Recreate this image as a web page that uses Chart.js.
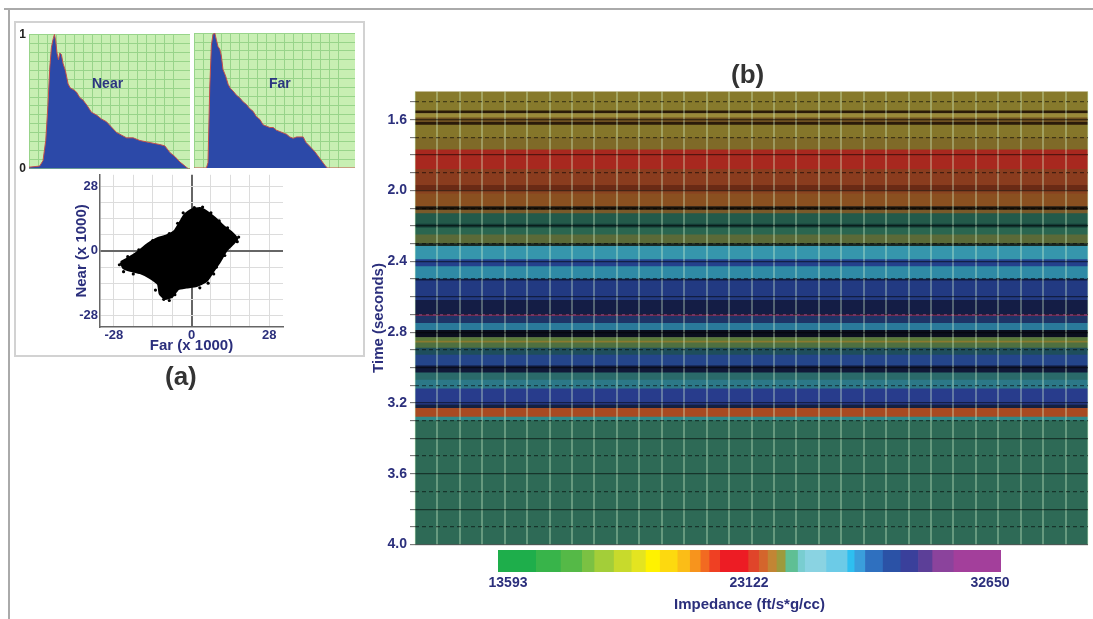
<!DOCTYPE html>
<html>
<head>
<meta charset="utf-8">
<script src="https://cdn.jsdelivr.net/npm/chart.js@4.4.1/dist/chart.umd.min.js"></script>
<style>
    body { margin: 0; background: #fff; width: 1093px; height: 619px; position: relative; overflow: hidden;
        font-family: "Liberation Sans", Arial, sans-serif; }
    .abs { position: absolute; }
    canvas { display: block; }
    .lbl { position: absolute; font-weight: bold; color: #2b3580; font-size: 14px; white-space: nowrap; }
    .cap { position: absolute; font-weight: bold; color: #333; font-size: 26px; }
</style>
</head>
<body>
<div class="abs" style="left:4px;top:8px;width:1089px;border-top:2px solid #aaa"></div>
<div class="abs" style="left:8px;top:8px;height:611px;border-left:2px solid #aaa"></div>
<div class="abs" style="left:14px;top:21px;width:347px;height:332px;border:2px solid #d2d2d2"></div>

<canvas id="near" class="abs" style="left:14px;top:24px" width="176" height="155"></canvas>
<canvas id="far" class="abs" style="left:194px;top:33px" width="161" height="135"></canvas>
<canvas id="scatter" class="abs" style="left:70px;top:165px" width="218" height="190"></canvas>
<canvas id="section" class="abs" style="left:360px;top:80px" width="730" height="476"></canvas>
<canvas id="colorbar" class="abs" style="left:450px;top:547px" width="600" height="67"></canvas>

<div class="lbl" style="left:92px;top:75px">Near</div>
<div class="lbl" style="left:269px;top:75px">Far</div>
<div class="cap" style="left:165px;top:361px">(a)</div>
<div class="cap" style="left:731px;top:59px">(b)</div>

<script>
// histograms (bin position 0-100, normalised count)
const nearBins = [0, 6.6, 8.7, 10.4, 11.8, 12.9, 13.9, 14.9, 15.8, 16.6, 17.4, 18.3, 19.1, 20.1, 21.2, 22.6,
    24.3, 25.7, 27.4, 29.5, 31.5, 33.6, 36.1, 38.8, 41.9, 45.0, 48.1, 51.2, 54.4, 57.5, 60.6, 64.7, 68.9,
    73.0, 77.2, 81.3, 84.4, 87.6, 90.7, 93.8, 96.9, 99, 100];
const nearCounts = [0.012, 0.02, 0.06, 0.21, 0.48, 0.75, 0.90, 0.96, 1.0, 0.95, 0.86, 0.81, 0.86, 0.85, 0.78, 0.73,
    0.63, 0.60, 0.59, 0.57, 0.53, 0.51, 0.47, 0.42, 0.40, 0.37, 0.35, 0.31, 0.27, 0.25, 0.23, 0.23, 0.21,
    0.20, 0.19, 0.18, 0.17, 0.12, 0.09, 0.05, 0.02, 0, 0];
const farBins = [0, 7.7, 8.7, 9.8, 10.8, 11.8, 12.9, 13.9, 14.9, 16.0, 17.0, 18.0, 19.7, 21.2, 22.6, 24.3, 26.3,
    28.4, 30.5, 32.6, 34.6, 36.7, 38.8, 40.9, 42.9, 45.0, 47.1, 49.2, 51.2, 53.3, 55.4, 57.5, 59.5, 61.6,
    63.7, 65.8, 67.8, 69.5, 72.0, 75.1, 78.2, 81.3, 82.8, 100];
const farCounts = [0, 0, 0.04, 0.6, 0.91, 0.99, 1.0, 0.95, 0.90, 0.88, 0.83, 0.73, 0.68, 0.62, 0.59, 0.57, 0.54,
    0.52, 0.49, 0.47, 0.44, 0.42, 0.38, 0.36, 0.32, 0.31, 0.30, 0.30, 0.28, 0.27, 0.26, 0.25, 0.23, 0.22,
    0.23, 0.23, 0.23, 0.19, 0.16, 0.12, 0.07, 0.02, 0, 0];

// crossplot (x 1000): outline of the dense cloud plus loose points round it
const crossTicks = [-28, 0, 28];
const blobFar = [-25.5, -23.3, -20.9, -18.5, -15.6, -12.6, -9.0, -6.0, -4.2, -2.4, 0, 3.0, 5.4, 8.4, 11.4, 14.4,
    16.4, 15.0, 12.6, 10.2, 7.8, 5.4, 1.8, -1.8, -4.8, -7.2, -9.6, -11.4, -12.0, -15.0, -18.5, -22.1, -24.5, -25.5];
const blobNear = [-4.9, -3.5, -1.8, 0.3, 3.1, 5.2, 6.6, 8.7, 12.2, 15.7, 17.8, 18.5, 17.1, 14.3, 10.8, 8.0,
    5.2, 3.1, 0.3, -4.6, -8.8, -13.0, -15.1, -15.8, -16.5, -20.0, -20.7, -18.6, -14.4, -11.6, -9.5, -8.5, -7.4, -4.9];
const strayFar = [-26, -24.5, -21, -13, -8, -10, -6, 3, 9, 12, 16.5, 17, 13, 10, 7, 4, 1, -3, -5, -8, -14, -19, -23, 8, 6];
const strayNear = [-6, -9, -10, -17, -21.5, -21, -19, -16, -7, -2, 4, 6, 10, 13, 16.5, 19, 18.8, 16.5, 12, 7.5, 4.5, 0.5, -2.5, -10, -14];

// impedance section: layers (seconds) and colours
const timeLabels = [1.6, 2.0, 2.4, 2.8, 3.2, 3.6, 4.0];
const layerTop = [1.44, 1.55, 1.565, 1.59, 1.615, 1.63, 1.70, 1.77, 1.88, 1.97, 2.0, 2.02, 2.09, 2.11, 2.13,
    2.19, 2.21, 2.25, 2.30, 2.315, 2.39, 2.43, 2.50, 2.51, 2.62, 2.70, 2.71, 2.75, 2.79, 2.83, 2.85, 2.86,
    2.89, 2.93, 2.99, 3.03, 3.07, 3.12, 3.21, 3.23, 3.28, 3.30];
const layerBase = [1.55, 1.565, 1.59, 1.615, 1.63, 1.70, 1.77, 1.88, 1.97, 2.0, 2.02, 2.09, 2.11, 2.13, 2.19,
    2.21, 2.25, 2.30, 2.315, 2.39, 2.43, 2.50, 2.51, 2.62, 2.70, 2.71, 2.75, 2.79, 2.83, 2.85, 2.86, 2.89,
    2.93, 2.99, 3.03, 3.07, 3.12, 3.21, 3.23, 3.28, 3.30, 4.0];
const layerColor = ["#877a2c", "#2a1a08", "#9a8a38", "#6e5020", "#2a1a0a", "#85762a", "#7f6a28", "#a8281f",
    "#8a3c1e", "#6a2a15", "#8a4420", "#8a5020", "#1a1208", "#7a5a2a", "#235a4a", "#133a35", "#2a6650",
    "#5a6a38", "#1a2a25", "#3696ac", "#24408c", "#2f8aa6", "#101a40", "#223a82", "#141d45", "#7a3060",
    "#1e3466", "#2a7a9a", "#0a0e1e", "#5a7a3a", "#8a7a30", "#4f7040", "#1e4e5c", "#24458a", "#101838",
    "#2a6a6a", "#2c7888", "#283c8c", "#142040", "#a84a22", "#2f8a8a", "#2e6a56"];

// colour scale (bar runs a little past the labelled end values)
const impTicks = [13593, 23122, 32650];
const impStops = [13198, 14712, 15692, 16531, 17021, 17791, 18490, 19050, 19610, 20309, 20799, 21219, 21568,
    21988, 23108, 23527, 23877, 24227, 24577, 25066, 25346, 26186, 27025, 27305, 27725, 28425, 29124,
    29824, 30383, 31223, 33085];
const impColors = ["#1eae4b", "#38b44a", "#55b947", "#7bc143", "#a3ce39", "#c8da2c", "#e4e420", "#fff200",
    "#fdd90f", "#fbbd17", "#f7941d", "#f26a21", "#ef4023", "#ed1c24", "#e0452a", "#d4652c", "#c28534",
    "#9c9a3c", "#5fbf94", "#79cdd0", "#8ad3e2", "#6ccbe7", "#2ebff0", "#3a9edb", "#2f70bf", "#2b52a6",
    "#3a409b", "#5c3f98", "#8b439c", "#a33f9b"];

const NAVY = "#2b2f7c";
const FONT = "'Liberation Sans', Arial, sans-serif";

const areaBg = {
    id: "areaBg",
    beforeDraw(chart, args, opts) {
        if (!opts.color) return;
        const { ctx, chartArea: a } = chart;
        ctx.save();
        ctx.fillStyle = opts.color;
        ctx.fillRect(a.left, a.top, a.width, a.height);
        ctx.restore();
    }
};

function histChart(id, bins, counts, showY) {
    return new Chart(document.getElementById(id), {
        type: "line",
        data: {
            datasets: [{
                data: bins.map((b, i) => ({ x: b, y: counts[i] })),
                fill: "origin",
                backgroundColor: "#2c49a8",
                borderColor: "#c4504c",
                borderWidth: 1,
                pointRadius: 0,
            }],
        },
        options: {
            responsive: false,
            animation: false,
            layout: { padding: 0 },
            plugins: { legend: { display: false }, tooltip: { enabled: false }, areaBg: { color: "#c8efb3" } },
            scales: {
                x: {
                    type: "linear", min: 0, max: 100,
                    ticks: { display: false, stepSize: 5.6 },
                    grid: { color: "#98d48a", drawTicks: false },
                    border: { display: false },
                    afterFit(s) { s.height = 0; },
                },
                y: {
                    min: 0, max: 1,
                    ticks: {
                        display: showY, stepSize: 1 / 15, padding: 3, color: "#222", autoSkip: false,
                        font: { family: FONT, size: 12, weight: "bold" },
                        callback: (v) => v === 0 ? "0" : (Math.abs(v - 1) < 1e-6 ? "1" : ""),
                    },
                    grid: { color: "#98d48a", drawTicks: false },
                    border: { display: false },
                    afterFit(s) { s.width = showY ? 15 : 0; },
                },
            },
        },
        plugins: [areaBg],
    });
}

histChart("near", nearBins, nearCounts, true);
histChart("far", farBins, farCounts, false);

const crossGrid = [-28, -21, -14, -7, 0, 7, 14, 21, 28];
const tickFont = { family: FONT, size: 13, weight: "bold" };
const titleFont = { family: FONT, size: 15, weight: "bold" };
const crossGridStyle = {
    drawTicks: false,
    color: (c) => c.tick && c.tick.value === 0 ? "#666" : "#dcdcdc",
    lineWidth: (c) => c.tick && c.tick.value === 0 ? 2 : 1,
};

new Chart(document.getElementById("scatter"), {
    type: "scatter",
    data: {
        datasets: [
            {
                data: blobFar.map((x, i) => ({ x: x, y: blobNear[i] })),
                showLine: true, fill: "shape", tension: 0.15,
                backgroundColor: "#000", borderColor: "#000", borderWidth: 2.5, pointRadius: 0,
            },
            {
                data: strayFar.map((x, i) => ({ x: x, y: strayNear[i] })),
                backgroundColor: "#000", borderWidth: 0, pointRadius: 1.6,
            },
        ],
    },
    options: {
        responsive: false,
        animation: false,
        layout: { padding: { top: 5, right: 5, left: 0, bottom: 0 } },
        plugins: { legend: { display: false }, tooltip: { enabled: false } },
        scales: {
            x: {
                type: "linear", min: -33, max: 33,
                afterBuildTicks(s) { s.ticks = crossGrid.map((v) => ({ value: v })); },
                ticks: { padding: 1, color: NAVY, font: tickFont, autoSkip: false, maxRotation: 0,
                    callback: (v) => crossTicks.includes(v) ? String(v) : "" },
                grid: crossGridStyle,
                border: { color: "#666", width: 1.5 },
                title: { display: true, text: "Far (x 1000)", color: NAVY, font: titleFont, padding: { top: 0, bottom: 0 } },
                afterFit(s) { s.height = 28; },
            },
            y: {
                type: "linear", min: -33, max: 33,
                afterBuildTicks(s) { s.ticks = crossGrid.map((v) => ({ value: v })); },
                ticks: { padding: 2, color: NAVY, font: tickFont, autoSkip: false,
                    callback: (v) => crossTicks.includes(v) ? String(v) : "" },
                grid: crossGridStyle,
                border: { color: "#666", width: 1.5 },
                title: { display: true, text: "Near (x 1000)", color: NAVY, font: titleFont, padding: { top: 3, bottom: 0 } },
                afterFit(s) { s.width = 30; },
            },
        },
    },
});

const minorTimes = [];
for (let t = 15; t <= 40; t++) minorTimes.push(t / 10);
const isEvenTenth = (v) => Math.round(v * 10) % 2 === 0;

new Chart(document.getElementById("section"), {
    type: "bar",
    data: {
        labels: ["T"],
        datasets: [{
            data: layerTop.map((t, i) => ({ x: "T", y: [t, layerBase[i]] })),
            backgroundColor: layerColor,
            borderWidth: 0,
            barPercentage: 1,
            categoryPercentage: 1,
        }],
    },
    options: {
        responsive: false,
        animation: false,
        layout: { padding: { top: 8, right: 2, bottom: 3, left: 0 } },
        plugins: { legend: { display: false }, tooltip: { enabled: false } },
        scales: {
            x: { display: false },
            x2: {
                type: "linear", position: "bottom", min: -0.15, max: 28.85,
                ticks: { display: false, stepSize: 1 },
                grid: { color: "rgba(225,255,215,0.32)", lineWidth: 2, drawTicks: false, z: 1 },
                border: { display: false },
                afterFit(s) { s.height = 0; },
            },
            y: {
                type: "linear", reverse: true, min: 1.44, max: 4.0, beginAtZero: false,
                afterBuildTicks(s) { s.ticks = minorTimes.map((v) => ({ value: v })); },
                ticks: {
                    padding: 3, color: NAVY, font: { family: FONT, size: 14, weight: "bold" }, autoSkip: false,
                    callback: (v) => timeLabels.some((t) => Math.abs(t - v) < 1e-6) ? v.toFixed(1) : "",
                },
                grid: {
                    color: (c) => c.tick && isEvenTenth(c.tick.value) ? "rgba(0,0,0,0.5)" : "rgba(0,0,0,0)",
                    lineWidth: 1.3, tickLength: 5, tickColor: "#666", tickWidth: 1, z: 2,
                },
                border: { display: false },
                title: { display: true, text: "Time (seconds)", color: NAVY, font: titleFont, padding: { top: 10, bottom: 0 } },
                afterFit(s) { s.width = 55; },
            },
            y2: {
                type: "linear", position: "left", reverse: true, min: 1.44, max: 4.0, beginAtZero: false,
                afterBuildTicks(s) { s.ticks = minorTimes.filter((v) => !isEvenTenth(v)).map((v) => ({ value: v })); },
                ticks: { display: false },
                grid: { color: "rgba(0,0,0,0.5)", lineWidth: 1.3, drawTicks: false, z: 2 },
                border: { display: false, dash: [4, 3] },
                afterFit(s) { s.width = 0; },
            },
        },
    },
});

new Chart(document.getElementById("colorbar"), {
    type: "bar",
    data: {
        labels: ["c"],
        datasets: [{
            data: impColors.map((c, i) => ({ y: "c", x: [impStops[i], impStops[i + 1]] })),
            backgroundColor: impColors,
            borderWidth: 0,
            barPercentage: 1,
            categoryPercentage: 1,
        }],
    },
    options: {
        indexAxis: "y",
        responsive: false,
        animation: false,
        layout: { padding: { top: 3, right: 49, bottom: 0, left: 48 } },
        plugins: { legend: { display: false }, tooltip: { enabled: false } },
        scales: {
            y: { display: false },
            x: {
                type: "linear", min: impStops[0], max: impStops[impStops.length - 1], beginAtZero: false,
                afterBuildTicks(s) { s.ticks = impTicks.map((v) => ({ value: v })); },
                ticks: { padding: 3, color: NAVY, font: { family: FONT, size: 14, weight: "bold" },
                    maxRotation: 0, autoSkip: false, callback: (v) => String(v) },
                grid: { display: false, drawTicks: false },
                border: { display: false },
                title: { display: true, text: "Impedance (ft/s*g/cc)", color: NAVY, font: titleFont, padding: { top: 1, bottom: 0 } },
                afterFit(s) { s.height = 42; },
            },
        },
    },
});
</script>
</body>
</html>
